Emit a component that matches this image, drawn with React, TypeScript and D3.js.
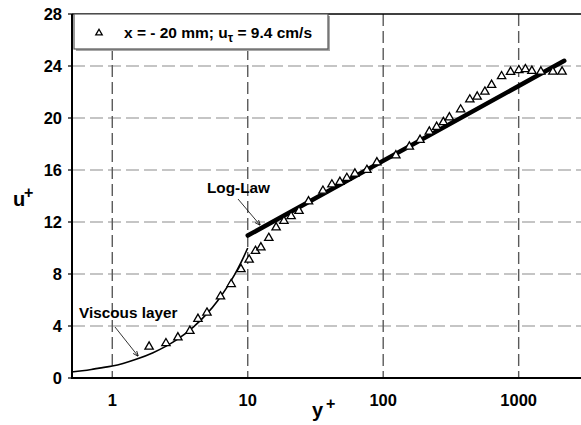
import React from 'react';
import * as d3 from 'd3';

const yPlus = [1.87, 2.49, 3.05, 3.74, 4.29, 5.0, 6.29, 7.55, 8.91, 10.24, 11.4, 12.5, 14.3, 16.2, 18.5, 20.9, 23.9, 28.1, 35.9, 41.8, 47.9, 53.9, 61.8, 75.8, 89.8, 124, 156, 187, 219, 248, 278, 308, 373, 436, 494, 563, 631, 748, 871, 1003, 1120, 1252, 1458, 1788, 2091];
const uPlus = [2.41, 2.67, 3.12, 3.62, 4.54, 5.02, 6.27, 7.22, 8.37, 9.1, 9.77, 10.04, 10.77, 11.58, 12.08, 12.44, 12.85, 13.58, 14.4, 14.88, 15.08, 15.38, 15.72, 16.0, 16.58, 17.12, 17.79, 18.31, 18.95, 19.31, 19.68, 20.04, 20.65, 21.42, 21.64, 22.02, 22.54, 23.21, 23.54, 23.67, 23.75, 23.62, 23.56, 23.56, 23.56];

const viscousY = [0.5, 0.6, 0.7, 0.8, 1, 1.2, 1.5, 2, 2.5, 3, 4, 5, 6, 7, 8, 9, 10];
const viscousU = [0.46, 0.56, 0.66, 0.76, 0.92, 1.12, 1.44, 1.95, 2.45, 2.95, 3.95, 4.95, 5.95, 6.95, 7.95, 8.97, 10];

const logLawY = [10, 2170];
const logLawU = [10.96, 24.4];

const xTicks = [1, 10, 100, 1000];
const yTicks = [0, 4, 8, 12, 16, 20, 24, 28];

export default function App() {
  const W = 581, H = 425;
  const x = d3.scaleLog().domain([0.5, 3000]).range([71.5, 583.3]);
  const y = d3.scaleLinear().domain([0, 28]).range([378, 14]);
  const left = 72, top = 14, bottom = 378, right = W;

  const tri = d3.symbol().type(d3.symbolTriangle).size(30)();
  const triSmall = d3.symbol().type(d3.symbolTriangle).size(18)();

  const viscousLine = d3.line<number>()
    .x((d, i) => x(viscousY[i]))
    .y((d) => y(d))
    .curve(d3.curveMonotoneX)(viscousU) || '';

  const logLine = d3.line<number>()
    .x((d, i) => x(logLawY[i]))
    .y((d) => y(d))(logLawU) || '';

  const font = "'Liberation Sans', Arial, sans-serif";

  return (
    <svg width={W} height={H} style={{ position: 'absolute', left: 0, top: 0, background: '#fff' }} fontFamily={font}>
      <defs>
        <marker id="arr" viewBox="0 0 10 10" refX="9" refY="5" markerWidth="7" markerHeight="7" orient="auto">
          <path d="M0,1 L10,5 L0,9" fill="none" stroke="#000" strokeWidth="1.4" />
        </marker>
      </defs>
      {yTicks.filter(t => t > 0 && t < 28).map(t => (
        <line key={'h' + t} x1={left} x2={right} y1={y(t)} y2={y(t)} stroke="#8c8c8c" strokeWidth={1.2} strokeDasharray="13,5" />
      ))}
      {xTicks.map(t => (
        <line key={'v' + t} x1={x(t)} x2={x(t)} y1={top} y2={bottom} stroke="#5a5a5a" strokeWidth={1.4} strokeDasharray="12,5" />
      ))}
      <line x1={left} x2={left} y1={top} y2={bottom + 1} stroke="#000" strokeWidth={2} />
      <line x1={left} x2={right} y1={bottom} y2={bottom} stroke="#000" strokeWidth={2} />
      <line x1={left} x2={right} y1={top} y2={top} stroke="#000" strokeWidth={1.5} />
      {yTicks.map(t => (
        <g key={'yt' + t}>
          <line x1={left - 4} x2={left} y1={y(t)} y2={y(t)} stroke="#000" strokeWidth={1.2} />
          <text x={62} y={y(t)} dy="0.36em" textAnchor="end" fontSize={16.5} fontWeight="bold">{t}</text>
        </g>
      ))}
      {xTicks.map(t => (
        <text key={'xt' + t} x={x(t)} y={406} textAnchor="middle" fontSize={16.5} fontWeight="bold">{t}</text>
      ))}
      <text x={13} y={206} fontSize={20} fontWeight="bold">u</text>
      <text x={24} y={198} fontSize={16} fontWeight="bold">+</text>
      <text x={312} y={417} fontSize={20} fontWeight="bold">y</text>
      <text x={326} y={409} fontSize={16} fontWeight="bold">+</text>

      <path d={viscousLine} fill="none" stroke="#000" strokeWidth={1.6} />
      <path d={logLine} fill="none" stroke="#000" strokeWidth={4.5} strokeLinecap="round" />

      {yPlus.map((v, i) => (
        <path key={'p' + i} d={tri} transform={`translate(${x(v)},${y(uPlus[i])})`} fill="#fff" stroke="#000" strokeWidth={1.3} />
      ))}

      <text x={207} y={193} fontSize={15.3} fontWeight="bold">Log-Law</text>
      <line x1={238} y1={199} x2={260} y2={225} stroke="#000" strokeWidth={0.8} markerEnd="url(#arr)" />
      <text x={79} y={318} fontSize={15.3} fontWeight="bold">Viscous layer</text>
      <line x1={115} y1={327} x2={138} y2={356} stroke="#000" strokeWidth={0.8} markerEnd="url(#arr)" />

      <rect x={76} y={16} width={254} height={35} fill="#a8a8a8" />
      <rect x={74} y={14} width={254} height={35} fill="#fff" stroke="#555" strokeWidth={1.2} />
      <path d={triSmall} transform="translate(99,33)" fill="#fff" stroke="#000" strokeWidth={1.3} />
      <text x={124} y={37.5} fontSize={15.5} fontWeight="bold">
        x = - 20 mm; u<tspan fontSize={12} dy={4}>τ</tspan><tspan dy={-4}> = 9.4 cm/s</tspan>
      </text>
    </svg>
  );
}
